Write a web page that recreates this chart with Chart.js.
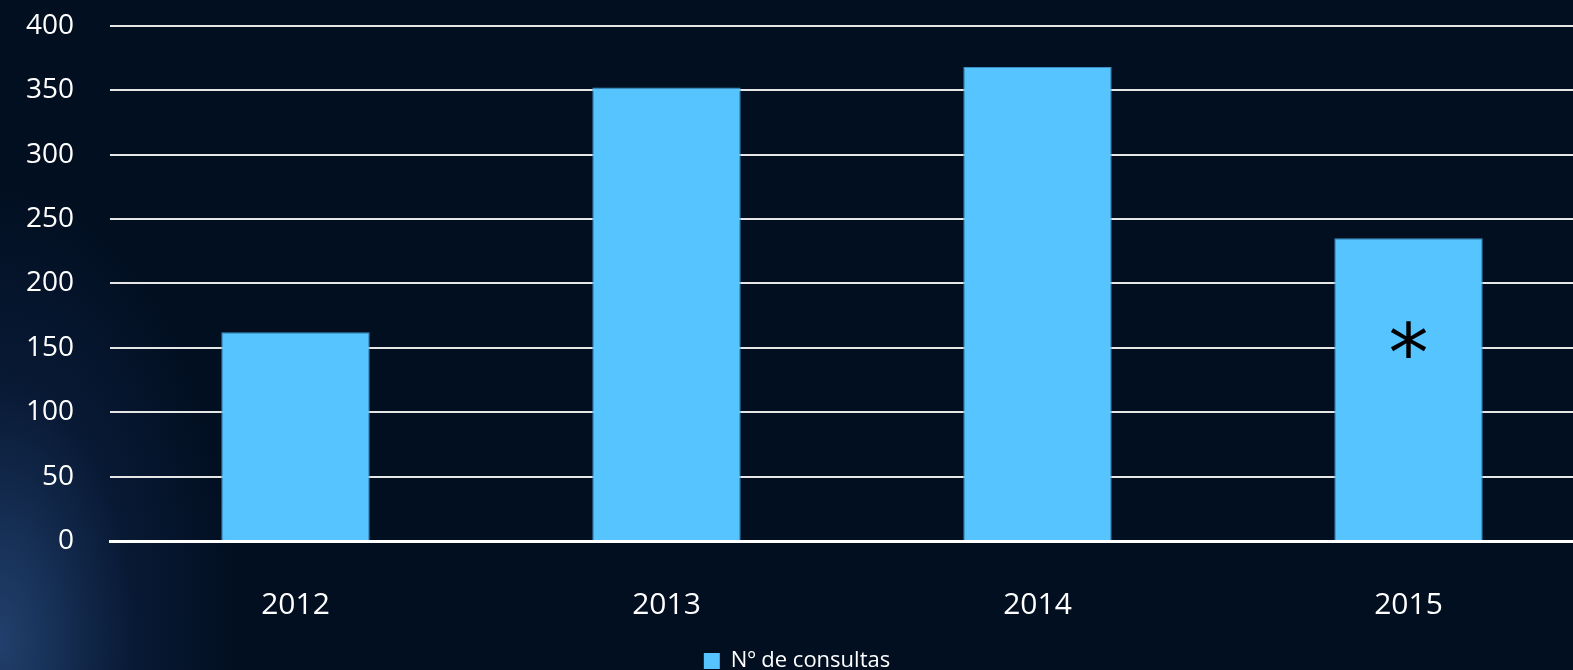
<!DOCTYPE html>
<html>
<head>
<meta charset="utf-8">
<script src="https://cdn.jsdelivr.net/npm/chart.js@4"></script>
<style>
  html, body { margin: 0; padding: 0; width: 1573px; height: 670px; overflow: hidden; }
  body {
    background:
      radial-gradient(ellipse 240px 460px at 0px 640px, rgba(50, 90, 150, 0.65), rgba(20, 45, 90, 0.35) 55%, rgba(2, 15, 34, 0) 100%),
      #020f21;
  }
  #wrap { width: 1594px; height: 709px; margin-top: -27px; }
</style>
</head>
<body>
<div id="wrap"><canvas id="grafico"></canvas></div>
<script>
const categorias = ["2012", "2013", "2014", "2015"];
const consultas = [162, 352, 368, 235];
const marcas = ["", "", "", "*"];
const ticksY = [0, 50, 100, 150, 200, 250, 300, 350, 400];

const colorBarra = "#55c4ff";
const fuente = "Open Sans, Lato, sans-serif";

// asterisco dentro de la barra de 2015
const pluginMarcas = {
  id: "marcas",
  afterDatasetsDraw(chart) {
    const meta = chart.getDatasetMeta(0);
    const y = chart.scales.y;
    const ctx = chart.ctx;
    ctx.save();
    ctx.fillStyle = "#000";
    ctx.font = "80px DejaVu Sans, sans-serif";
    ctx.textAlign = "center";
    ctx.textBaseline = "middle";
    meta.data.forEach((bar, i) => {
      if (!marcas[i]) return;
      ctx.fillText(marcas[i], bar.x, y.getPixelForValue(consultas[i] * 0.62) + 7);
    });
    ctx.restore();
  }
};

new Chart(document.getElementById("grafico"), {
  type: "bar",
  data: {
    labels: categorias,
    datasets: [{
      label: "Nº de consultas",
      data: consultas,
      backgroundColor: colorBarra,
      borderColor: "#3b8fc4",
      borderWidth: 1,
      barPercentage: 0.4,
      categoryPercentage: 1
    }]
  },
  options: {
    responsive: true,
    maintainAspectRatio: false,
    animation: false,
    layout: { padding: 0 },
    scales: {
      x: {
        grid: { display: false, drawTicks: false },
        border: { color: "#ffffff", width: 3 },
        ticks: { color: "#ffffff", font: { family: fuente, size: 30 }, padding: 46 },
        afterFit: s => { s.height = 108; }
      },
      y: {
        min: 0,
        max: 400,
        afterBuildTicks: s => { s.ticks = ticksY.map(v => ({ value: v })); },
        grid: { color: "#e6e6e6", lineWidth: 2, drawTicks: false },
        border: { display: false },
        ticks: { color: "#ffffff", font: { family: fuente, size: 28 }, padding: 36 },
        afterFit: s => { s.width = 110; }
      }
    },
    plugins: {
      legend: {
        position: "bottom",
        labels: {
          color: "#ffffff",
          font: { family: fuente, size: 22 },
          boxWidth: 16,
          boxHeight: 16,
          padding: 1,
          generateLabels: chart => chart.data.datasets.map((d, i) => ({
            text: d.label,
            fillStyle: colorBarra,
            strokeStyle: colorBarra,
            lineWidth: 0,
            fontColor: "#ffffff",
            datasetIndex: i
          }))
        }
      },
      tooltip: { enabled: false }
    }
  },
  plugins: [pluginMarcas]
});
</script>
</body>
</html>
